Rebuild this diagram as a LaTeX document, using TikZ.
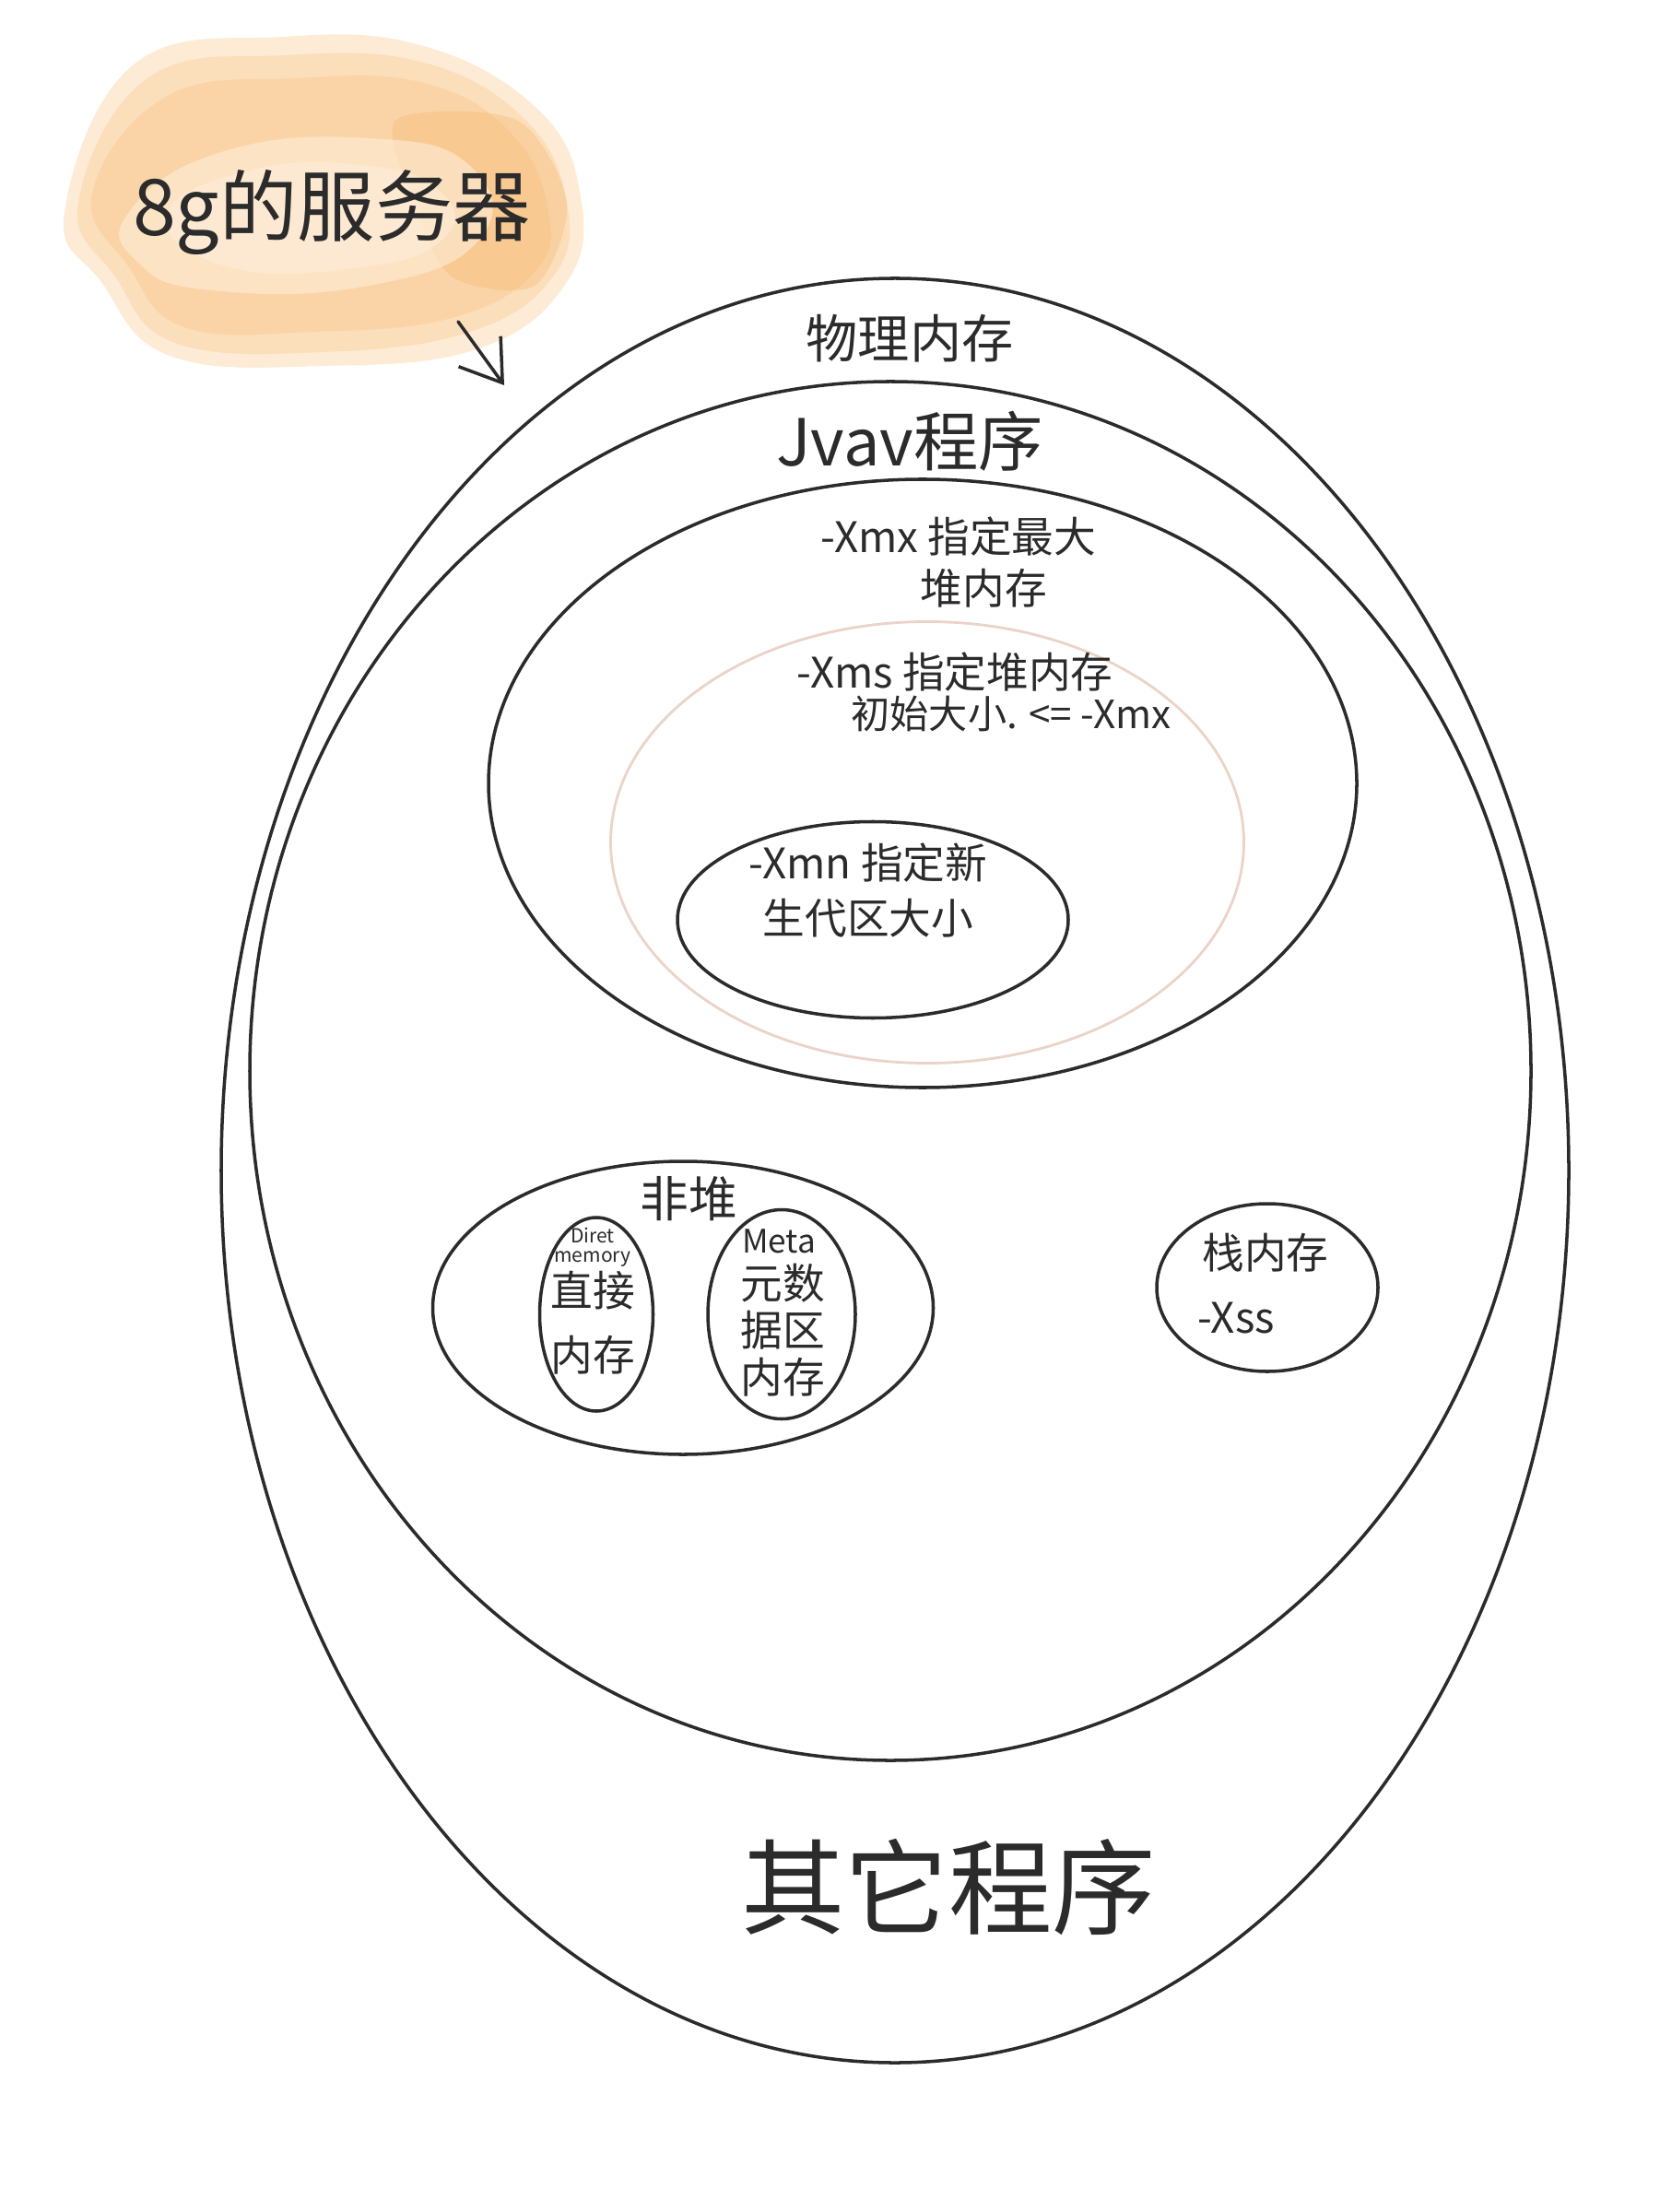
\documentclass[tikz,border=0pt]{standalone}
\usepackage{fontspec}
\newfontfamily\cjk{Noto Sans CJK SC}
\usetikzlibrary{arrows.meta,shapes.geometric}
\definecolor{blobOut}{HTML}{F9C07A}
\definecolor{blobIn}{HTML}{FEF0DE}
\definecolor{blobDark}{HTML}{F6AA55}
\definecolor{pencil}{HTML}{2B2B2B}
\definecolor{xmsline}{HTML}{EBD3C8}
\tikzset{
  zone/.style={ellipse,draw=pencil,line width=1pt,inner sep=0pt},
  wash/.style={fill=#1,opacity=.3},
  lbl/.style={text=pencil,font=\cjk\fontsize{13}{17}\selectfont,align=center},
  big/.style={text=pencil,font=\cjk\fontsize{#1}{#1}\selectfont}
}

\begin{document}
\begin{tikzpicture}[x=1cm,y=1cm,>={Straight Barb[length=12pt,width=16pt]}]
\useasboundingbox[fill=white] (0,0) rectangle (18,-24);
% watercolour patch behind the title
\fill[wash=blobOut] plot[smooth cycle,tension=.7] coordinates {(.7,-2.3) (1.45,-.7) (3.06,-.4) (4.6,-.5) (5.85,-1.2) (6.3,-2.14) (6.15,-3.06) (5.2,-3.78) (3.52,-3.97) (1.84,-3.86) (1.1,-3.06)};
\fill[wash=blobOut] plot[smooth cycle,tension=.7] coordinates {(.85,-2.2) (1.6,-.85) (3.1,-.6) (4.6,-.68) (5.7,-1.3) (6.15,-2.2) (6.0,-3.0) (5.1,-3.6) (3.5,-3.82) (1.9,-3.72) (1.25,-3.0)};
\fill[wash=blobOut] plot[smooth cycle,tension=.7] coordinates {(1.0,-2.1) (1.8,-1.05) (3.2,-.85) (4.6,-.9) (5.55,-1.45) (5.95,-2.3) (5.8,-2.95) (4.9,-3.45) (3.4,-3.6) (2.0,-3.55) (1.4,-2.9)};
\fill[blobDark,opacity=.25] plot[smooth cycle] coordinates {(4.3,-1.3) (5.6,-1.3) (6.15,-2.2) (5.8,-3.1) (4.9,-3.0) (4.5,-2.2)};
\fill[blobIn,opacity=.55] plot[smooth cycle,tension=.8] coordinates {(1.4,-2.3) (2.4,-1.65) (4.0,-1.5) (5.1,-1.8) (5.2,-2.6) (4.0,-3.1) (2.3,-3.15) (1.5,-2.85)};
\fill[blobIn,opacity=.5] plot[smooth cycle,tension=.8] coordinates {(1.8,-2.35) (2.7,-1.85) (4.0,-1.8) (4.8,-2.1) (4.8,-2.6) (3.9,-2.9) (2.5,-2.9)};
\node[big=24] (server) at (3.6,-2.3) {8g的服务器};
\coordinate (arrowstart) at (4.97,-3.49);
\coordinate (arrowtip) at (5.47,-4.18);
\draw[->,pencil,line width=1pt,line cap=round] (arrowstart) -- (arrowtip);
% nested memory areas
\node[zone,minimum width=14.62cm,minimum height=19.36cm] (phys) at (9.71,-12.7) {};
\node[zone,minimum width=13.9cm,minimum height=14.96cm] (jvm) at (9.66,-11.62) {};
\node[zone,minimum width=9.42cm,minimum height=6.6cm] (heap) at (10.01,-8.5) {};
\node[zone,draw=xmsline,line width=.8pt,minimum width=6.87cm,minimum height=4.79cm] (xms) at (10.06,-9.14) {};
\node[zone,minimum width=4.24cm,minimum height=2.13cm] (young) at (9.47,-9.98) {};
\node[zone,minimum width=5.43cm,minimum height=3.18cm] (nonheap) at (7.41,-14.19) {};
\node[zone,minimum width=1.23cm,minimum height=2.1cm] (direct) at (6.47,-14.26) {};
\node[zone,minimum width=1.6cm,minimum height=2.27cm] (meta) at (8.48,-14.26) {};
\node[zone,minimum width=2.4cm,minimum height=1.82cm] (stack) at (13.75,-13.97) {};
% labels
\node[big=16] (physlbl) at (9.87,-3.67) {物理内存};
\node[big=20] (jvmlbl) at (9.87,-4.79) {Jvav程序};
\node[lbl] (xmxlbl) at (10.4,-6.1) {-Xmx 指定最大\\[-1pt]\hspace*{1.2em}堆内存};
\node[lbl] (xmslbl1) at (10.36,-7.29) {-Xms 指定堆内存};
\node[lbl,font=\cjk\fontsize{12}{15}\selectfont] (xmslbl2) at (10.97,-7.74) {初始大小. <= -Xmx};
\node[lbl] (xmnlbl) at (9.42,-9.66) {-Xmn 指定新\\生代区大小};
\node[big=15] (nonheaplbl) at (7.47,-13.01) {非堆};
\node[lbl,font=\cjk\fontsize{6}{6}\selectfont] (directen) at (6.43,-13.53) {Diret\\memory};
\node[lbl,font=\cjk\fontsize{13}{20}\selectfont] (directlbl) at (6.43,-14.35) {直接\\内存};
\node[lbl,font=\cjk\fontsize{10}{10}\selectfont] (metaen) at (8.45,-13.47) {Meta};
\node[lbl,font=\cjk\fontsize{13}{14.5}\selectfont] (metalbl) at (8.49,-14.43) {元数\\据区\\内存};
\node[lbl] (stacklbl) at (13.73,-13.59) {栈内存};
\node[lbl] (xsslbl) at (13.41,-14.3) {-Xss};
\node[big=32] (otherlbl) at (10.29,-20.48) {其它程序};
\end{tikzpicture}
\end{document}
